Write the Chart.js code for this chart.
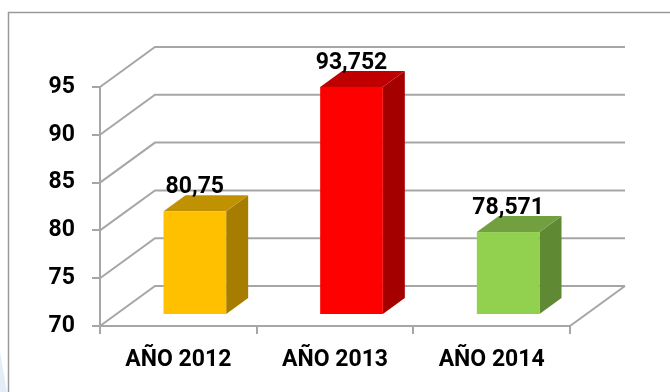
<!DOCTYPE html>
<html>
<head>
<meta charset="utf-8">
<script src="https://cdn.jsdelivr.net/npm/chart.js@4.4.1/dist/chart.umd.min.js"></script>
<style>
    html, body { margin: 0; padding: 0; background: #fff; }
    #wrap { width: 670px; height: 392px; position: relative; }
</style>
</head>
<body>
<div id="wrap"><canvas id="chart" width="670" height="392"></canvas></div>
<script>
const categories = ['AÑO 2012', 'AÑO 2013', 'AÑO 2014'];
const values = [80.75, 93.752, 78.571];
const yTicks = [70, 75, 80, 85, 90, 95];

const frontColors = ['#ffc000', '#ff0000', '#92d050'];
const topColors = ['#c09100', '#c00000', '#72a040'];
const sideColors = ['#a67d00', '#a50000', '#5f8a33'];

const GRID = '#a6a6a6';
const FONT = { family: 'Roboto', weight: '700', size: 23 };

// depth of the floor/back wall, and where the bars sit inside it
const DX = 55;
const DY = -40;
const BAR_OFFSET = 0.3;
const BAR_DEPTH = 0.4;

const fmt = (v) => String(v).replace('.', ',');

const box3d = {
    id: 'box3d',
    beforeDraw(chart) {
        const ctx = chart.ctx;
        ctx.save();
        // faint slide shape in the lower-left corner
        ctx.fillStyle = '#e3ecf7';
        ctx.beginPath();
        ctx.moveTo(0, 352);
        ctx.lineTo(7, 392);
        ctx.lineTo(0, 392);
        ctx.closePath();
        ctx.fill();
        // outer frame
        ctx.strokeStyle = '#9a9a9a';
        ctx.lineWidth = 1.5;
        ctx.strokeRect(8.5, 12.5, 700, 420);
        ctx.restore();
    },
    beforeDatasetsDraw(chart) {
        const { ctx, chartArea, scales } = chart;
        const { left, right, bottom } = chartArea;
        ctx.save();
        ctx.strokeStyle = GRID;
        ctx.lineWidth = 2;
        yTicks.forEach((v) => {
            const y = scales.y.getPixelForValue(v);
            ctx.beginPath();
            ctx.moveTo(left, y);
            ctx.lineTo(left + DX, y + DY);
            ctx.lineTo(right + DX, y + DY);
            ctx.stroke();
        });
        // right edge of the floor
        ctx.beginPath();
        ctx.moveTo(right, bottom);
        ctx.lineTo(right + DX, bottom + DY);
        ctx.stroke();
        ctx.restore();
    },
    afterDatasetsDraw(chart) {
        const ctx = chart.ctx;
        const yScale = chart.scales.y;
        const meta = chart.getDatasetMeta(0);
        const sx = DX * BAR_OFFSET;
        const sy = DY * BAR_OFFSET;
        const dx = DX * BAR_DEPTH;
        const dy = DY * BAR_DEPTH;
        const floor = yScale.getPixelForValue(yScale.min);
        ctx.save();
        meta.data.forEach((bar, i) => {
            const { x, y, width } = bar.getProps(['x', 'y', 'width'], true);
            const x0 = x - width / 2 + sx;
            const x1 = x + width / 2 + sx;
            const top = y + sy;
            const bot = floor + sy;

            ctx.fillStyle = sideColors[i];
            ctx.beginPath();
            ctx.moveTo(x1, top);
            ctx.lineTo(x1 + dx, top + dy);
            ctx.lineTo(x1 + dx, bot + dy);
            ctx.lineTo(x1, bot);
            ctx.closePath();
            ctx.fill();

            ctx.fillStyle = topColors[i];
            ctx.beginPath();
            ctx.moveTo(x0, top);
            ctx.lineTo(x0 + dx, top + dy);
            ctx.lineTo(x1 + dx, top + dy);
            ctx.lineTo(x1, top);
            ctx.closePath();
            ctx.fill();

            ctx.fillStyle = frontColors[i];
            ctx.fillRect(x0, top, x1 - x0, bot - top);

            ctx.fillStyle = '#000';
            ctx.font = `${FONT.weight} ${FONT.size}px ${FONT.family}`;
            ctx.textAlign = 'center';
            ctx.textBaseline = 'alphabetic';
            ctx.fillText(fmt(values[i]), x + sx, top - 18);
        });
        ctx.restore();
    },
};

new Chart(document.getElementById('chart'), {
    type: 'bar',
    data: {
        labels: categories,
        datasets: [
            {
                data: values,
                backgroundColor: 'rgba(0,0,0,0)',
                borderWidth: 0,
                barPercentage: 0.4,
                categoryPercentage: 1,
            },
        ],
    },
    options: {
        responsive: false,
        animation: false,
        layout: {
            padding: { top: 87, right: 100, left: 0, bottom: 0 },
        },
        scales: {
            x: {
                afterFit: (scale) => { scale.height = 66; },
                grid: { drawOnChartArea: false, offset: true, tickLength: 8, color: GRID, lineWidth: 2 },
                border: { color: GRID, width: 2 },
                ticks: { font: FONT, color: '#000', padding: 12 },
            },
            y: {
                min: 70,
                max: 95,
                afterFit: (scale) => { scale.width = 100; },
                afterBuildTicks: (scale) => { scale.ticks = yTicks.map((value) => ({ value })); },
                grid: { drawOnChartArea: false, tickLength: 8, color: GRID, lineWidth: 2 },
                border: { color: GRID, width: 2 },
                ticks: { font: FONT, color: '#000', padding: 17 },
            },
        },
        plugins: {
            legend: { display: false },
            tooltip: { enabled: false },
        },
    },
    plugins: [box3d],
});
</script>
</body>
</html>
